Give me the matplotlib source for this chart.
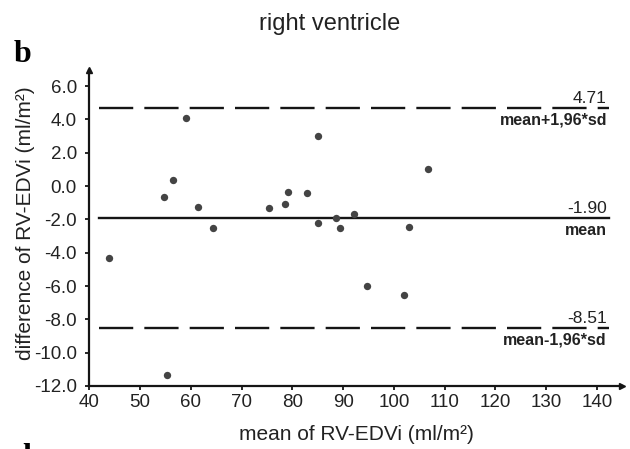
import numpy as np
import matplotlib
matplotlib.use('Agg')
import matplotlib.pyplot as plt

plt.rcParams['font.family'] = ['Liberation Sans', 'DejaVu Sans']

# ---------------- data ----------------
mean_vals = [43.9, 54.8, 56.5, 59.1, 61.5, 64.4, 75.4, 78.5, 79.2, 82.9,
             85.1, 85.1, 88.6, 89.3, 92.1, 102.9, 106.8, 55.4, 94.7, 102.0]
diff_vals = [-4.34, -0.64, 0.34, 4.10, -1.24, -2.50, -1.32, -1.08, -0.38, -0.44,
             3.02, -2.24, -1.90, -2.50, -1.68, -2.46, 1.02, -11.36, -5.99, -6.51]
bias = -1.90
upper = 4.71
lower = -8.51
line_labels = ['mean+1,96*sd', 'mean', 'mean-1,96*sd']
xticks = np.arange(40, 141, 10)
yticks = np.arange(-12, 6.1, 2)
title = 'right ventricle'
xlab = 'mean of RV-EDVi (ml/m²)'
ylab = 'difference of RV-EDVi (ml/m²)'
###############################################################

fig = plt.figure(figsize=(6.3, 4.49), dpi=100)
ax = fig.add_axes([89.3/630, 1-386/449, (621.7-89.3)/630, (386-70)/449])

ax.scatter(mean_vals, diff_vals, s=28, color='#444444', zorder=3, linewidths=0)

lc = '#151515'
ax.plot([42, 142.3], [upper, upper], color=lc, lw=1.7, dashes=(14.5, 4.7))
ax.plot([42, 142.3], [lower, lower], color=lc, lw=1.7, dashes=(14.5, 4.7))
ax.plot([42, 142.3], [bias, bias], color=lc, lw=1.7)

tc = '#222222'
for val, lab in zip([upper, bias, lower], line_labels):
    ax.text(142.0, val+0.55, '%.2f' % val, ha='right', va='center', fontsize=12.5, color=tc)
    ax.text(142.0, val-0.75, lab, ha='right', va='center', fontsize=11.5, color=tc,
            fontweight='bold')

ax.set_xlim(40, 144.9)
ax.set_ylim(-12, 6.96)
ax.set_xticks(xticks)
ax.set_xticklabels([str(int(v)) for v in xticks])
ax.set_yticks(yticks)
ax.set_yticklabels(['%.1f' % v for v in yticks])
ax.tick_params(labelsize=13.5, length=3, width=1.3, color=lc, labelcolor=tc)
ax.tick_params(axis='y', pad=6)
ax.tick_params(axis='x', pad=3)

for s in ['top', 'right']:
    ax.spines[s].set_visible(False)
for s in ['left', 'bottom']:
    ax.spines[s].set_linewidth(1.6)
    ax.spines[s].set_color(lc)
ax.plot(1, 0, '>', color=lc, ms=4, transform=ax.transAxes, clip_on=False)
ax.plot(0, 1, '^', color=lc, ms=4, transform=ax.transAxes, clip_on=False)

fig.text(330/630, 1-24/449, title, ha='center', va='center', fontsize=17, color=tc)
fig.text(356/630, 1-435/449, xlab, ha='center', va='center', fontsize=15, color=tc)
fig.text(26/630, 1-223/449, ylab, ha='center', va='center', fontsize=15, color=tc,
         rotation=90)
fig.text(14/630, 1-62/449, 'b', ha='left', va='baseline', fontsize=23,
         fontweight='bold', family='Liberation Serif')
fig.text(14/630, 1-443/449, 'd', ha='left', va='top', fontsize=23,
         fontweight='bold', family='Liberation Serif')

fig.savefig('out.png', dpi=100)
